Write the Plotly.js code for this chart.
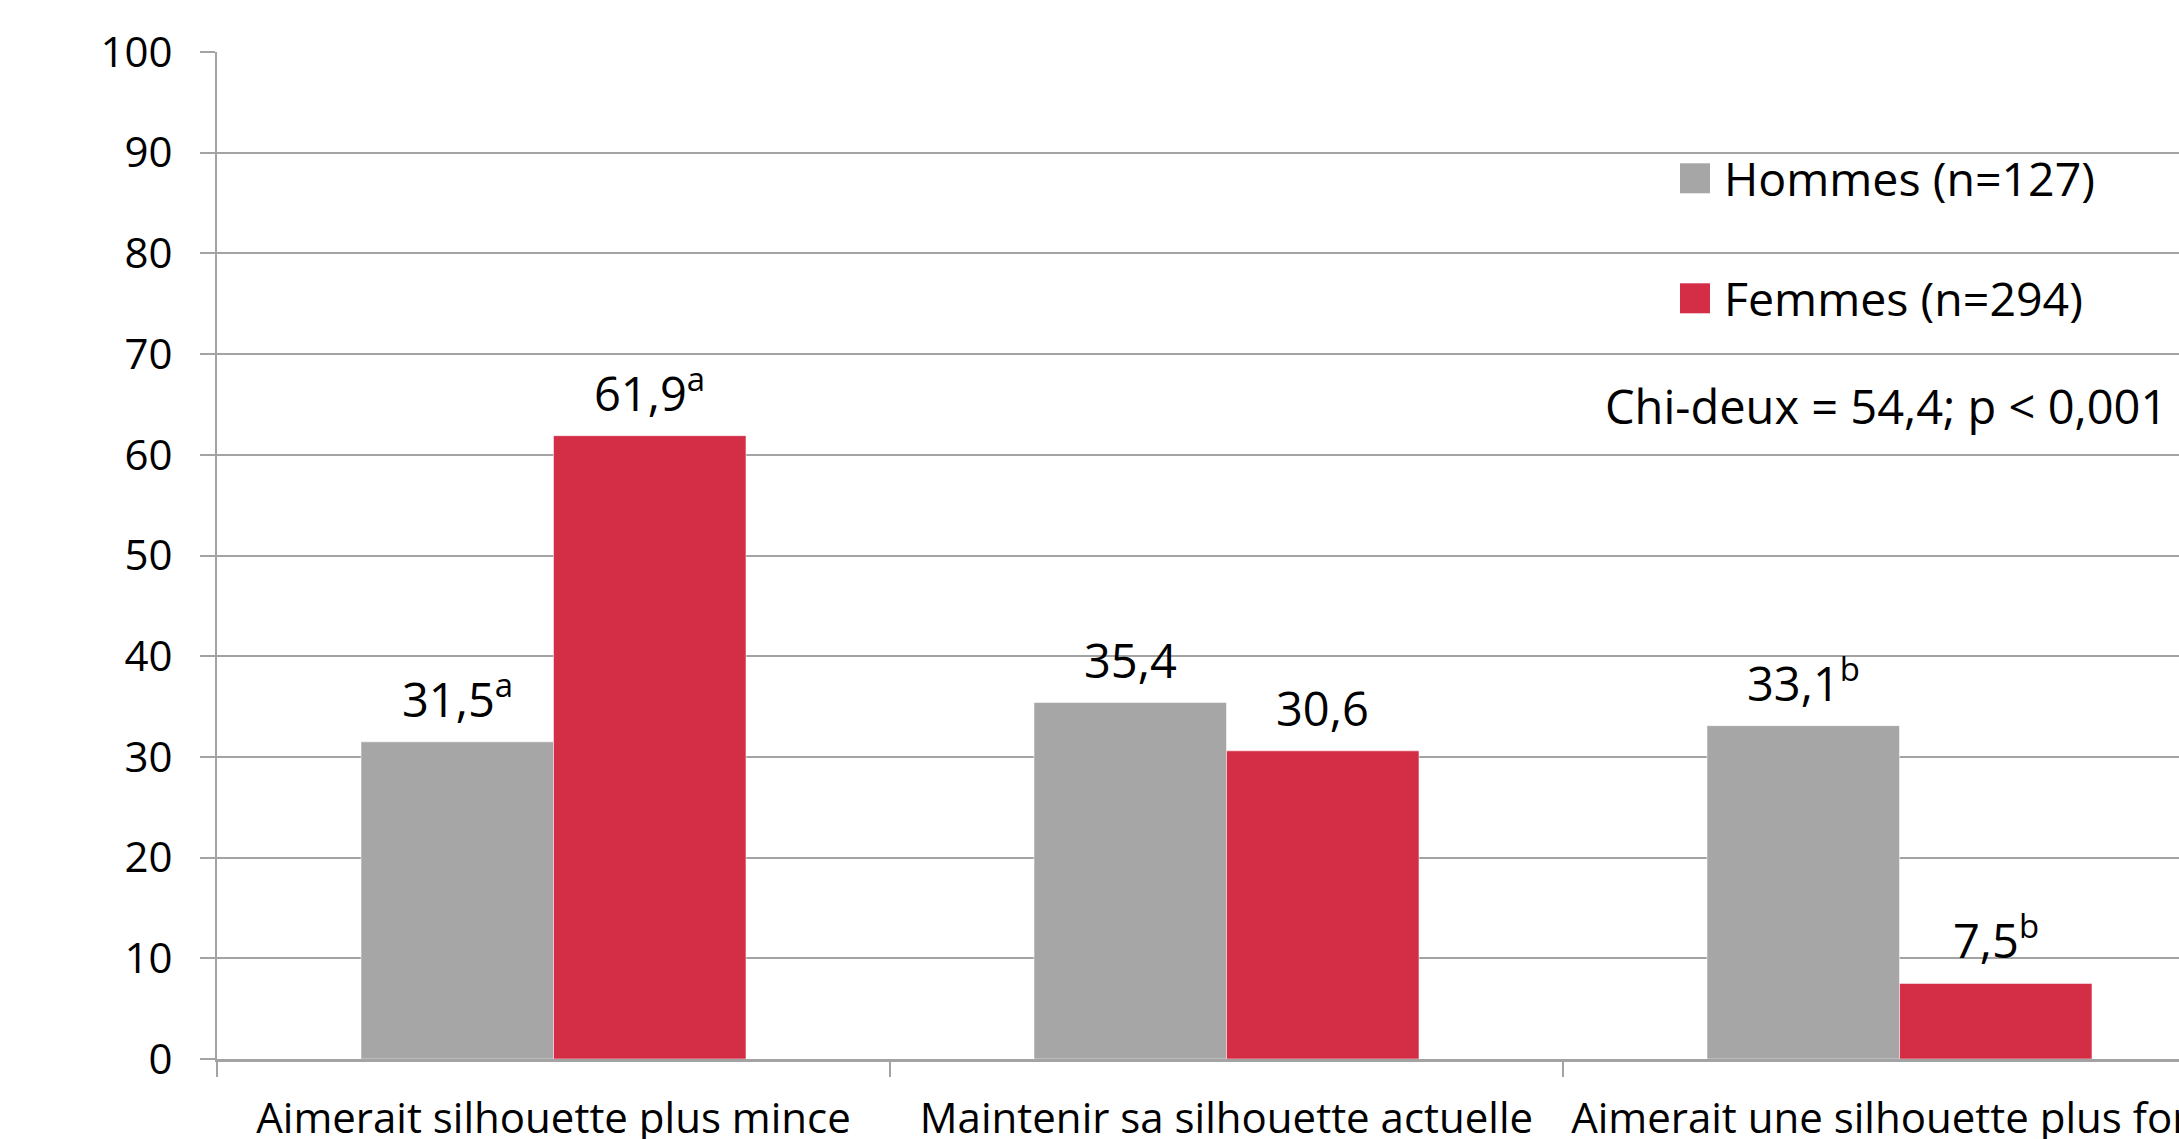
<!DOCTYPE html>
<html>
<head>
<meta charset="utf-8">
<script src="https://cdn.plot.ly/plotly-3.0.1.min.js"></script>
<style>
  html, body { margin: 0; padding: 0; overflow: hidden; background: #ffffff; }
  #chart { width: 2320px; height: 1200px; }
</style>
</head>
<body>
<div id="chart"></div>
<script>
// ---- Data ----
const categories = [
  "Aimerait silhouette plus mince",
  "Maintenir sa silhouette actuelle",
  "Aimerait une silhouette plus forte"
];
const hommesValues = [31.5, 35.4, 33.1];
const femmesValues = [61.9, 30.6, 7.5];
const hommesSup = ["a", "", "b"];
const femmesSup = ["a", "", "b"];
const hommesName = "Hommes (n=127)";
const femmesName = "Femmes (n=294)";
const statText = "Chi-deux = 54,4; p < 0,001";
const yTicks = [0, 10, 20, 30, 40, 50, 60, 70, 80, 90, 100];

// ---- Style ----
const GRAY = "#A6A6A6";
const RED = "#D32E46";
const GRID = "#A3A3A3";
const FONT = "Open Sans, Noto Sans, sans-serif";
const BARGAP = 0.428;

function fmt(v, sup) {
  const s = v.toFixed(1).replace(".", ",");
  return sup ? s + "<sup>" + sup + "</sup>" : s;
}

const traces = [
  {
    type: "bar",
    name: hommesName,
    x: categories,
    y: hommesValues,
    marker: { color: GRAY, line: { color: "rgba(255,255,255,0.5)", width: 1 } },
    hoverinfo: "skip"
  },
  {
    type: "bar",
    name: femmesName,
    x: categories,
    y: femmesValues,
    marker: { color: RED, line: { color: "rgba(255,255,255,0.5)", width: 1 } },
    hoverinfo: "skip"
  }
];

// plot area in pixels: left 217, right 2236, top 52, bottom 1059
const W = 2320, H = 1200;
const L = 217, R = W - 2236, T = 52, B = H - 1059;
const pw = W - L - R, ph = H - T - B;
const px = (x) => (x - L) / pw;
const py = (y) => (H - B - y) / ph;

// half-offset of each bar in a group of two (pixels), derived from bargap
const barOffset = (pw / categories.length) * (1 - BARGAP) / 4;

const valueLabels = [];
categories.forEach((c, i) => {
  valueLabels.push({
    x: c, y: hommesValues[i], xref: "x", yref: "y",
    xshift: -barOffset, yshift: 9, xanchor: "center", yanchor: "bottom",
    text: fmt(hommesValues[i], hommesSup[i]), showarrow: false,
    font: { family: FONT, size: 47, color: "#000000" }
  });
  valueLabels.push({
    x: c, y: femmesValues[i], xref: "x", yref: "y",
    xshift: barOffset, yshift: 9, xanchor: "center", yanchor: "bottom",
    text: fmt(femmesValues[i], femmesSup[i]), showarrow: false,
    font: { family: FONT, size: 47, color: "#000000" }
  });
});

const layout = {
  width: W,
  height: H,
  margin: { l: L, r: R, t: T, b: B, pad: 0 },
  paper_bgcolor: "#ffffff",
  plot_bgcolor: "#ffffff",
  showlegend: false,
  barmode: "group",
  bargap: BARGAP,
  bargroupgap: 0,
  font: { family: FONT, color: "#000000" },
  xaxis: {
    type: "category",
    tickson: "boundaries",
    ticks: "outside",
    ticklen: 15,
    tickwidth: 2,
    tickcolor: GRID,
    showgrid: false,
    showline: true,
    linecolor: GRID,
    linewidth: 3,
    tickfont: { family: FONT, size: 42, color: "#000000" },
    ticklabelstandoff: 21,
    zeroline: false,
    fixedrange: true
  },
  yaxis: {
    range: [0, 100],
    tickmode: "array",
    tickvals: yTicks,
    ticktext: yTicks.map(String),
    ticks: "outside",
    ticklen: 15,
    tickwidth: 2,
    tickcolor: GRID,
    showgrid: true,
    gridcolor: GRID,
    gridwidth: 2,
    showline: true,
    linecolor: GRID,
    linewidth: 2,
    zeroline: false,
    tickfont: { family: FONT, size: 42, color: "#000000" },
    ticklabelstandoff: 19,
    fixedrange: true
  },
  shapes: [
    { type: "rect", xref: "paper", yref: "paper",
      x0: px(1680), x1: px(1710), y0: py(193.3), y1: py(163.3),
      fillcolor: GRAY, line: { width: 0 } },
    { type: "rect", xref: "paper", yref: "paper",
      x0: px(1680), x1: px(1710), y0: py(313.3), y1: py(283.3),
      fillcolor: RED, line: { width: 0 } }
  ],
  annotations: valueLabels.concat([
    { xref: "paper", yref: "paper", x: px(1722), y: py(178), xanchor: "left", yanchor: "middle",
      text: hommesName, showarrow: false, font: { family: FONT, size: 46.5, color: "#000000" } },
    { xref: "paper", yref: "paper", x: px(1722), y: py(298), xanchor: "left", yanchor: "middle",
      text: femmesName, showarrow: false, font: { family: FONT, size: 46.5, color: "#000000" } },
    { xref: "paper", yref: "paper", x: px(2169), y: py(406), xanchor: "right", yanchor: "middle",
      text: statText, showarrow: false, font: { family: FONT, size: 47, color: "#000000" } }
  ])
};

Plotly.newPlot("chart", traces, layout, { displayModeBar: false, staticPlot: true });
</script>
</body>
</html>
